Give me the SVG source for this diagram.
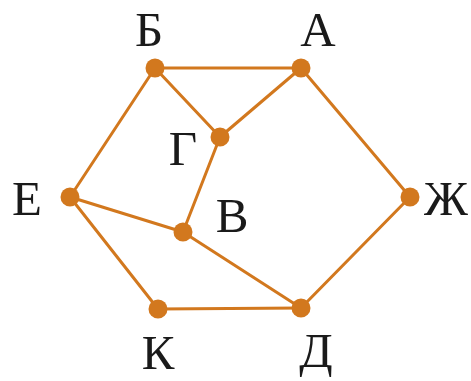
<svg xmlns="http://www.w3.org/2000/svg" width="471" height="381" viewBox="0 0 471 381">
<style>
.e{stroke:#D2781E;stroke-width:3;fill:none;stroke-linecap:round}
.n{fill:#D2781E}
.t{font-family:"Liberation Serif",serif;font-size:49px;fill:#1a1a1a;text-anchor:middle}
</style>
<rect width="471" height="381" fill="#fff"/>
<g id="edges">
<line class="e" x1="155" y1="68" x2="301" y2="68"/>
<line class="e" x1="155" y1="68" x2="220" y2="137"/>
<line class="e" x1="220" y1="137" x2="301" y2="68"/>
<line class="e" x1="155" y1="68" x2="70" y2="197"/>
<line class="e" x1="220" y1="137" x2="183" y2="232"/>
<line class="e" x1="70" y1="197" x2="183" y2="232"/>
<line class="e" x1="70" y1="197" x2="158" y2="309"/>
<line class="e" x1="183" y1="232" x2="301" y2="308"/>
<line class="e" x1="158" y1="309" x2="301" y2="308"/>
<line class="e" x1="301" y1="68" x2="410" y2="197"/>
<line class="e" x1="410" y1="197" x2="301" y2="308"/>
</g>
<g id="B"><circle class="n" cx="155" cy="68" r="9.5"/><text class="t" x="149" y="46">Б</text></g>
<g id="A"><circle class="n" cx="301" cy="68" r="9.5"/><text class="t" x="318" y="46">А</text></g>
<g id="G"><circle class="n" cx="220" cy="137" r="9.5"/><text class="t" x="183" y="165">Г</text></g>
<g id="E"><circle class="n" cx="70" cy="197" r="9.5"/><text class="t" x="27" y="215">Е</text></g>
<g id="V"><circle class="n" cx="183" cy="232" r="9.5"/><text class="t" x="232" y="232">В</text></g>
<g id="Zh"><circle class="n" cx="410" cy="197" r="9.5"/><text class="t" x="446" y="215">Ж</text></g>
<g id="K"><circle class="n" cx="158" cy="309" r="9.5"/><text class="t" x="158" y="369">К</text></g>
<g id="D"><circle class="n" cx="301" cy="308" r="9.5"/><text class="t" x="316" y="367">Д</text></g>
</svg>
